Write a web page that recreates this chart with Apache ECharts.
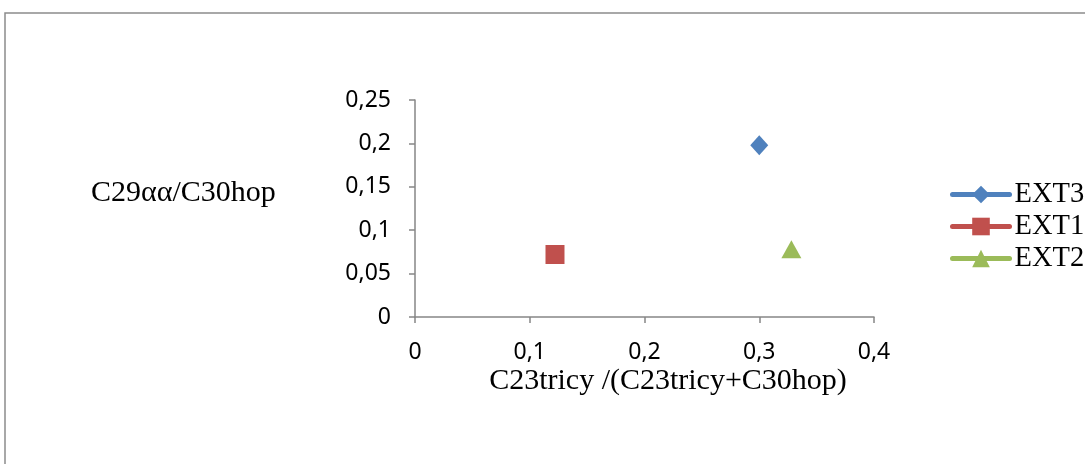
<!DOCTYPE html>
<html><head><meta charset="utf-8">
<script src="https://cdn.jsdelivr.net/npm/echarts@6/dist/echarts.min.js"></script>
<style>html,body{margin:0;padding:0;background:#fff}#c{width:1085px;height:464px}</style>
</head><body><div id="c"></div>
<script>
const seriesNames = ['EXT3', 'EXT1', 'EXT2'];
const ext3 = [[0.30, 0.198]];
const ext1 = [[0.122, 0.072]];
const ext2 = [[0.328, 0.078]];
const xName = 'C23tricy /(C23tricy+C30hop)';
const yName = 'C29αα/C30hop';
const colors = ['#4F81BD', '#C0504D', '#9BBB59'];
const symbols = ['diamond', 'rect', 'triangle'];
const sizes = [[18, 20], 19, [20, 18]];
const dataSets = [ext3, ext1, ext2];

const chart = echarts.init(document.getElementById('c'));
const fmt = v => String(v).replace('.', ',');
const labelFont = {fontFamily: 'Noto Sans', fontSize: 23, color: '#000'};
chart.setOption({
  animation: false,
  grid: {left: 415, top: 100, right: 211, bottom: 147},
  xAxis: {type: 'value', min: 0, max: 0.4, interval: 0.1,
    axisLine: {show: true, lineStyle: {color: '#868686', width: 1.5}},
    axisTick: {show: true, length: 6, lineStyle: {color: '#868686', width: 1.5}},
    splitLine: {show: false},
    axisLabel: Object.assign({margin: 24, formatter: fmt}, labelFont)},
  yAxis: {type: 'value', min: 0, max: 0.25, interval: 0.05,
    axisLine: {show: true, lineStyle: {color: '#868686', width: 1.5}},
    axisTick: {show: true, length: 6, lineStyle: {color: '#868686', width: 1.5}},
    splitLine: {show: false},
    axisLabel: Object.assign({margin: 24, formatter: fmt}, labelFont)},
  legend: {orient: 'vertical', left: 950, top: 180, padding: 0, itemWidth: 57, itemHeight: 22, itemGap: 3,
    data: seriesNames,
    lineStyle: {width: 5, opacity: 1, cap: 'round'},
    textStyle: {fontFamily: 'Liberation Serif', fontSize: 28.5, lineHeight: 22, color: '#000'}},
  graphic: [
    {type: 'rect', shape: {x: 5, y: 13, width: 1200, height: 600}, style: {fill: 'none', stroke: '#8c8c8c', lineWidth: 1.5}, silent: true},
    {type: 'text', x: 91, y: 193, style: {text: yName, fontFamily: 'Liberation Serif', fontSize: 30, fill: '#000', verticalAlign: 'middle'}},
    {type: 'text', x: 668, y: 381, style: {text: xName, fontFamily: 'Liberation Serif', fontSize: 30, fill: '#000', align: 'center', verticalAlign: 'middle'}}
  ],
  series: seriesNames.map((n, i) => ({
    name: n, type: 'line', data: dataSets[i], symbol: symbols[i], symbolSize: sizes[i],
    itemStyle: {color: colors[i]}, lineStyle: {color: colors[i], width: 0, opacity: 0}
  }))
});
</script></body></html>
